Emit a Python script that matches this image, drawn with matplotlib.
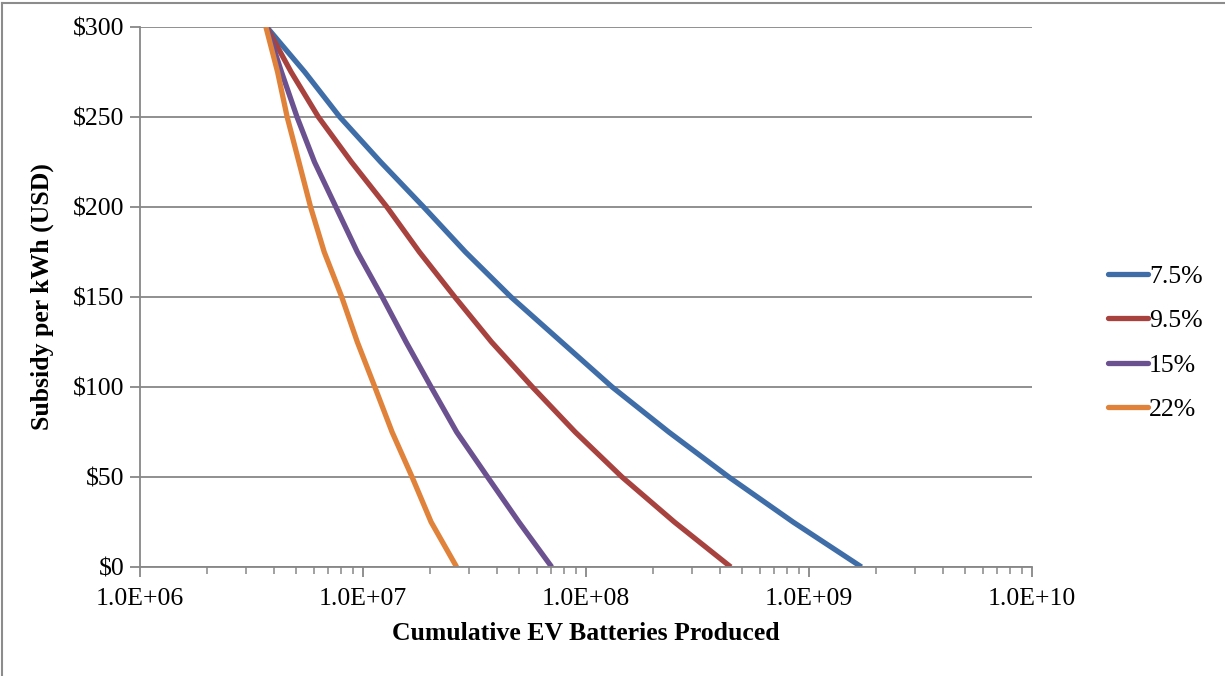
import math
import matplotlib
matplotlib.use('Agg')
import matplotlib.pyplot as plt
from matplotlib.lines import Line2D
from matplotlib.ticker import FuncFormatter, LogLocator, NullFormatter

plt.rcParams['font.family'] = ['Liberation Serif', 'DejaVu Serif']

# subsidy levels ($/kWh)
subsidy = [300, 275, 250, 225, 200, 175, 150, 125, 100, 75, 50, 25, 0]

# cumulative batteries produced at each subsidy level, per learning rate
batt_75 = [3.70e6, 5.48e6, 7.87e6, 1.20e7, 1.87e7, 2.88e7, 4.61e7, 7.77e7,
           1.31e8, 2.35e8, 4.37e8, 8.48e8, 1.72e9]
batt_95 = [3.70e6, 4.76e6, 6.31e6, 8.87e6, 1.28e7, 1.79e7, 2.58e7, 3.77e7,
           5.75e7, 8.94e7, 1.45e8, 2.49e8, 4.46e8]
batt_15 = [3.70e6, 4.31e6, 5.06e6, 6.06e6, 7.56e6, 9.43e6, 1.22e7, 1.56e7,
           2.02e7, 2.63e7, 3.62e7, 5.00e7, 7.02e7]
batt_22 = [3.67e6, 4.14e6, 4.57e6, 5.16e6, 5.82e6, 6.70e6, 8.03e6, 9.43e6,
           1.13e7, 1.35e7, 1.66e7, 2.02e7, 2.63e7]

labels = ['7.5%', '9.5%', '15%', '22%']
colors = ['#3F6DA8', '#A7423F', '#6B5190', '#E0823A']

fig = plt.figure(figsize=(12.25, 6.76), dpi=100)
ax = fig.add_axes([140/1225, 1 - 567/676, (1032 - 140)/1225, (567 - 27)/676])

for xs, lab, c in zip([batt_75, batt_95, batt_15, batt_22], labels, colors):
    ax.plot(xs, subsidy, color=c, lw=3.8, label=lab, solid_capstyle='butt', solid_joinstyle='round')

ax.set_xscale('log')
ax.set_xlim(1e6, 1e10)
ax.set_ylim(0, 300)
ax.set_yticks(range(0, 301, 50))
ax.yaxis.set_major_formatter(FuncFormatter(lambda v, p: '$%d' % v))
ax.xaxis.set_major_locator(LogLocator(base=10, numticks=10))
ax.xaxis.set_major_formatter(FuncFormatter(lambda v, p: '1.0E+%02d' % round(math.log10(v))))
ax.xaxis.set_minor_locator(LogLocator(base=10, subs=range(2, 10), numticks=100))
ax.xaxis.set_minor_formatter(NullFormatter())

ax.grid(axis='y', color='#878787', lw=1.3)
ax.set_axisbelow(True)
for s in ['top', 'right']:
    ax.spines[s].set_visible(False)
for s in ['left', 'bottom']:
    ax.spines[s].set_color('#878787')
    ax.spines[s].set_linewidth(1.3)

fs = 18.5
ax.tick_params(axis='y', which='major', length=7, width=1.3, color='#878787', labelsize=fs, pad=4)
ax.tick_params(axis='x', which='major', length=7, width=1.3, color='#878787', labelsize=fs, pad=8)
ax.tick_params(axis='x', which='minor', length=5, width=1.1, color='#878787')

ax.set_xlabel('Cumulative EV Batteries Produced', fontsize=fs, fontweight='bold', labelpad=9)
ax.set_ylabel('Subsidy per kWh (USD)', fontsize=fs, fontweight='bold', labelpad=14)

handles = [Line2D([0], [0], color=c, lw=3.8, solid_capstyle='round') for c in colors]
leg = fig.legend(handles, labels, loc='center left', bbox_to_anchor=(1095/1225, 1 - 343/676),
                 frameon=False, fontsize=fs, handlelength=1.55, handletextpad=0.05,
                 labelspacing=0.82, borderpad=0)

# outer chart-area border (top and left edges visible)
fig.add_artist(Line2D([2/1225, 1], [1 - 3/676, 1 - 3/676], color='#8c8c8c', lw=1.5, transform=fig.transFigure))
fig.add_artist(Line2D([2/1225, 2/1225], [0, 1 - 3/676], color='#8c8c8c', lw=1.5, transform=fig.transFigure))

fig.savefig('out.png', dpi=100)
